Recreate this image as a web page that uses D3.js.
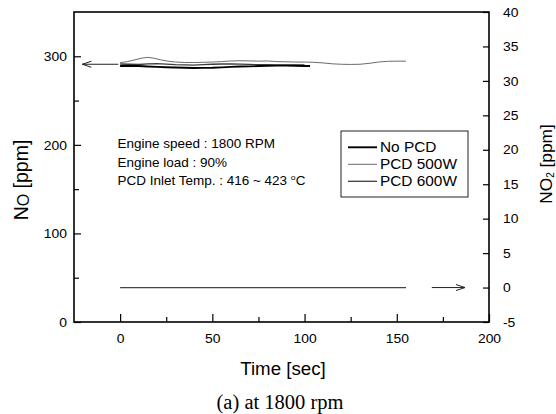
<!DOCTYPE html>
<html>
<head>
<meta charset="utf-8">
<script src="https://cdn.jsdelivr.net/npm/d3@7"></script>
<style>
  html, body { margin: 0; padding: 0; background: #fff; }
  svg { display: block; }
  text { font-family: "Liberation Sans", Arial, sans-serif; fill: #000; }
</style>
</head>
<body>
<svg id="chart" width="556" height="414"></svg>
<script>
// ---- data ----
const noPcdTime = [0,5,10,15,20,25,30,35,40,45,50,55,60,65,70,75,80,85,90,95,100,103];
const noPcdNO   = [289,289.3,289,288.5,288,287.6,287.3,287,286.8,286.9,287,287.5,288,288.4,288.6,289,289.2,289.4,289.6,289.3,289.1,289];

const pcd500Time = [0,4,8,12,15,18,22,26,30,35,40,45,50,55,60,65,70,75,80,85,90,95,100,105,110,115,120,125,130,135,140,145,150,155];
const pcd500NO   = [292.8,294,296,298,298.8,298,296,294.5,293.5,293,293,293.2,293.5,294,294.7,295,294.8,294.5,294.7,294,293.8,293.5,293.5,293.2,292.5,291.5,291,290.8,291,292,293.5,294.3,294.5,294.5];

const pcd600Time = [0,5,10,15,20,25,30,35,40,45,50,55,60,65,70,75,80,85,90,95,100];
const pcd600NO   = [291.3,291,290.7,291.5,291.8,291.2,290.5,290.2,290,290.5,291,291.3,291.5,291.2,290.8,290.5,290.6,290.3,290,290.4,290.3];

const no2Time = [0,25,50,75,100,125,155];
const no2Val  = [0,0,0,0,0,0,0];

const seriesNames = ["No PCD","PCD 500W","PCD 600W"];
const xTicks = [0,50,100,150,200];
const xMinor = [25,75,125,175];
const yLTicks = [0,100,200,300];
const yLMinor = [50,150,250];
const yRTicks = [-5,0,5,10,15,20,25,30,35,40];
const notes = ["Engine speed : 1800 RPM","Engine load : 90%","PCD Inlet Temp. : 416 ~ 423 "];
// arrows: [fromTime, toTime, value]
const leftArrow  = [-1, -20.5, 291];
const rightArrow = [169, 187, 0];

// ---- layout ----
const svg = d3.select("#chart");
const x  = d3.scaleLinear([-25,200],[74,489]);
const yL = d3.scaleLinear([0,350],[322,12]);
const yR = d3.scaleLinear([-5,40],[322,12]);
const SX = 1.07;
const fmt = d => String(d);

function styleAxis(g){
  g.select(".domain").remove();
  g.selectAll("line").attr("stroke","#000").attr("stroke-width",1.2);
  g.selectAll("text").attr("font-size",13).attr("font-family","Liberation Sans, Arial, sans-serif").attr("fill","#000");
}

// bottom axis
const gb = svg.append("g").attr("transform","translate(0,322)")
  .call(d3.axisBottom(x).tickValues(xTicks).tickSizeInner(-8).tickSizeOuter(0).tickPadding(11.5).tickFormat(fmt));
styleAxis(gb);
gb.selectAll("text").attr("transform",`scale(${SX},1)`);
const gbm = svg.append("g").attr("transform","translate(0,322)")
  .call(d3.axisBottom(x).tickValues(xMinor).tickSizeInner(-5).tickSizeOuter(0).tickFormat(""));
styleAxis(gbm);

// left axis
const gl = svg.append("g").attr("transform","translate(74,0)")
  .call(d3.axisLeft(yL).tickValues(yLTicks).tickSizeInner(-7).tickSizeOuter(0).tickPadding(6.5).tickFormat(fmt));
styleAxis(gl);
gl.selectAll("text").attr("transform",`scale(${SX},1)`);
const glm = svg.append("g").attr("transform","translate(74,0)")
  .call(d3.axisLeft(yL).tickValues(yLMinor).tickSizeInner(-5).tickSizeOuter(0).tickFormat(""));
styleAxis(glm);

// right axis
const gr = svg.append("g").attr("transform","translate(489,0)")
  .call(d3.axisRight(yR).tickValues(yRTicks).tickSizeInner(-6).tickSizeOuter(0).tickPadding(13).tickFormat(fmt));
styleAxis(gr);
gr.selectAll("text").attr("transform",`scale(${SX},1)`);

// frame
svg.append("rect").attr("x",74).attr("y",12).attr("width",415).attr("height",310)
  .attr("fill","none").attr("stroke","#000").attr("stroke-width",1.6);

// lines
const lineL = d3.line().x(d=>x(d[0])).y(d=>yL(d[1]));
const lineR = d3.line().x(d=>x(d[0])).y(d=>yR(d[1]));
const zip = (a,b)=>a.map((v,i)=>[v,b[i]]);

const styles = [
  {color:"#000", w:1.9},
  {color:"#6a6a6a", w:1.0},
  {color:"#3c3c3c", w:1.3}
];
svg.append("path").datum(zip(pcd500Time,pcd500NO)).attr("d",lineL).attr("fill","none").attr("stroke",styles[1].color).attr("stroke-width",styles[1].w);
svg.append("path").datum(zip(pcd600Time,pcd600NO)).attr("d",lineL).attr("fill","none").attr("stroke",styles[2].color).attr("stroke-width",styles[2].w);
svg.append("path").datum(zip(noPcdTime,noPcdNO)).attr("d",lineL).attr("fill","none").attr("stroke",styles[0].color).attr("stroke-width",styles[0].w);
svg.append("path").datum(zip(no2Time,no2Val)).attr("d",lineR).attr("fill","none").attr("stroke","#444").attr("stroke-width",1.2);

// arrows
function arrow(x1,x2,y){
  const g = svg.append("g").attr("stroke","#222").attr("stroke-width",1).attr("fill","none");
  g.append("line").attr("x1",x1).attr("x2",x2).attr("y1",y).attr("y2",y);
  const dir = x2 < x1 ? 1 : -1;
  g.append("polyline").attr("points",`${x2+dir*9},${y-3} ${x2},${y} ${x2+dir*9},${y+3}`);
}
arrow(x(leftArrow[0]), x(leftArrow[1]), yL(leftArrow[2]));
arrow(x(rightArrow[0]), x(rightArrow[1]), yR(rightArrow[2]));

// notes
const ng = svg.append("g").attr("transform","translate(117.5,0) scale(1.08,1)");
notes.forEach((t,i)=>{
  const tx = ng.append("text").attr("x",0).attr("y",148.5+i*18.3).attr("font-size",12.5).text(t);
  if(i===2){
    tx.append("tspan").attr("font-size",8).attr("dy",-5).text("o");
    tx.append("tspan").attr("dy",5).text("C");
  }
});

// legend
svg.append("rect").attr("x",341).attr("y",131).attr("width",127).attr("height",66)
  .attr("fill","#fff").attr("stroke","#222").attr("stroke-width",1);
seriesNames.forEach((n,i)=>{
  const yy = 147.3 + i*17;
  svg.append("line").attr("x1",348).attr("x2",377).attr("y1",yy).attr("y2",yy)
    .attr("stroke",styles[i].color).attr("stroke-width",styles[i].w);
  svg.append("g").attr("transform",`translate(380,${yy+4.8}) scale(1.1,1)`)
    .append("text").attr("font-size",14).text(n);
});

// axis titles
svg.append("text").attr("x",283).attr("y",375).attr("text-anchor","middle").attr("font-size",18.7).text("Time [sec]");
svg.append("text").attr("x",280).attr("y",409).attr("text-anchor","middle")
  .style("font-family","'Liberation Serif', 'Times New Roman', serif")
  .attr("font-size",20.5).text("(a) at 1800 rpm");

const lt = svg.append("text").attr("transform","translate(28,180) rotate(-90)").attr("text-anchor","middle").attr("font-size",19.5);
lt.append("tspan").text("N");
lt.append("tspan").attr("font-size",16).attr("dy",1).text("O");
lt.append("tspan").attr("dy",-1).text(" [ppm]");

const rt = svg.append("text").attr("transform","translate(551.5,164) rotate(-90)").attr("text-anchor","middle").attr("font-size",17.3);
rt.append("tspan").text("NO");
rt.append("tspan").attr("font-size",10).attr("dy",2).text("2");
rt.append("tspan").attr("dy",-2).text(" [ppm]");
</script>
</body>
</html>
